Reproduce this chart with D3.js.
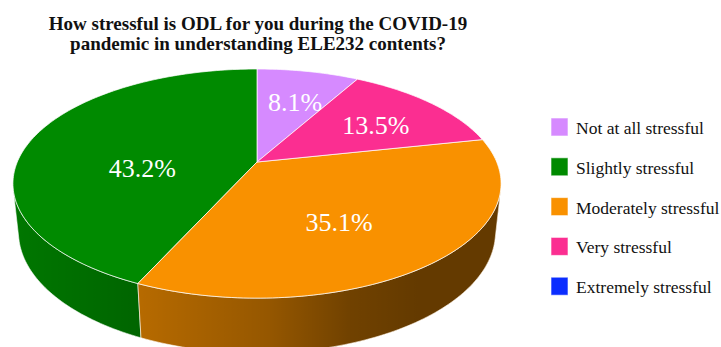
<!DOCTYPE html>
<html>
<head>
<meta charset="utf-8">
<script src="https://cdn.jsdelivr.net/npm/d3@7"></script>
<style>
  html, body { margin: 0; padding: 0; background: #fff; }
  svg { display: block; }
</style>
</head>
<body>
<svg id="chart" width="721" height="347"></svg>
<script>
// data
const categories = ['Not at all stressful', 'Slightly stressful', 'Moderately stressful', 'Very stressful', 'Extremely stressful'];
const percents = [8.1, 43.2, 35.1, 13.5, 0];
const colors = ['#d68aff', '#008a00', '#f99100', '#fb2e91', '#0b2dff'];
const titleLines = ['How stressful is ODL for you during the COVID-19', 'pandemic in understanding ELE232 contents?'];

const FONT = "'Liberation Serif', 'Times New Roman', Tinos, 'DejaVu Serif', serif";
const svg = d3.select('#chart').attr('font-family', FONT);

// perspective camera for the 3D disc (radius 1)
const cam = { cx: 257, cy: 162, F: 1130.7, L: 4.717, phi: Math.asin(0.461), depth: 0.23 };

// theta measured clockwise from the far side of the disc
function project(theta, r, y) {
  const X = r * Math.sin(theta), Z = r * Math.cos(theta), Y = y || 0;
  const cp = Math.cos(cam.phi), sp = Math.sin(cam.phi);
  const dist = cam.L + Z * cp - Y * sp;
  const up = Y * cp + Z * sp;
  return [cam.cx + cam.F * X / dist, cam.cy - cam.F * up / dist];
}

function arcPoints(a0, a1, y) {
  const n = Math.max(2, Math.ceil(Math.abs(a1 - a0) / 0.02));
  return d3.range(n + 1).map(i => project(a0 + (a1 - a0) * i / n, 1, y));
}

// pie goes counter-clockwise in data order, first slice ending at the top
const total = d3.sum(percents);
const start = 2 * Math.PI * percents[0] / total;
const arcs = d3.pie().sort(null).value(d => d).startAngle(start).endAngle(start - 2 * Math.PI)(percents)
  .map((a, i) => ({ i, value: a.value, lo: Math.min(a.startAngle, a.endAngle), hi: Math.max(a.startAngle, a.endAngle) }))
  .filter(a => a.value > 0);

const defs = svg.append('defs');
const shade = defs.append('linearGradient')
  .attr('id', 'wallShade')
  .attr('gradientUnits', 'userSpaceOnUse')
  .attr('x1', 14).attr('x2', 502).attr('y1', 0).attr('y2', 0);
[[0, 0.14], [0.26, 0.27], [0.52, 0.4], [0.69, 0.55], [0.83, 0.6], [1, 0.6]].forEach(([o, a]) => {
  shade.append('stop').attr('offset', o).attr('stop-color', '#000').attr('stop-opacity', a);
});

const line = d3.line();

// outer walls: only the part facing the camera
const limit = Math.acos(-1 / (cam.L * Math.cos(cam.phi)));
const visible = [[limit, 2 * Math.PI - limit], [limit - 2 * Math.PI, -limit]];
const wallG = svg.append('g').attr('class', 'walls');
arcs.forEach(a => {
  visible.forEach(([v0, v1]) => {
    const t0 = Math.max(a.lo, v0), t1 = Math.min(a.hi, v1);
    if (t1 <= t0) return;
    const pts = arcPoints(t0, t1, 0).concat(arcPoints(t1, t0, -cam.depth));
    const d = line(pts) + 'Z';
    wallG.append('path').attr('d', d).attr('fill', colors[a.i]);
    wallG.append('path').attr('d', d).attr('fill', 'url(#wallShade)')
      .attr('stroke', 'rgba(255,255,255,0.75)').attr('stroke-width', 0.8);
  });
});

// top faces
const topG = svg.append('g').attr('class', 'top');
arcs.forEach(a => {
  const pts = [project(0, 0)].concat(arcPoints(a.lo, a.hi, 0));
  a.poly = pts;
  topG.append('path')
    .attr('d', line(pts) + 'Z')
    .attr('fill', colors[a.i])
    .attr('stroke', 'rgba(255,255,255,0.8)')
    .attr('stroke-width', 0.9)
    .attr('stroke-linejoin', 'round');
});

// value labels at slice centroid
topG.selectAll('text.val')
  .data(arcs)
  .join('text')
  .attr('class', 'val')
  .attr('x', d => d3.polygonCentroid(d.poly)[0] + 4)
  .attr('y', d => d3.polygonCentroid(d.poly)[1])
  .attr('dy', '0.35em')
  .attr('text-anchor', 'middle')
  .attr('fill', '#fff')
  .attr('font-size', 26)
  .text(d => d.value.toFixed(1) + '%');

// title
svg.append('g').selectAll('text')
  .data(titleLines)
  .join('text')
  .attr('x', 258)
  .attr('y', (d, i) => 30 + i * 20)
  .attr('text-anchor', 'middle')
  .attr('font-size', 19)
  .attr('font-weight', 'bold')
  .attr('fill', '#111')
  .text(d => d);

// legend
const legend = svg.append('g').attr('class', 'legend')
  .selectAll('g')
  .data(categories)
  .join('g')
  .attr('transform', (d, i) => `translate(551,${118 + i * 39.8})`);

legend.append('rect')
  .attr('width', 17).attr('height', 18)
  .attr('fill', (d, i) => colors[i])
  .attr('stroke', 'rgba(255,255,255,0.6)').attr('stroke-width', 1);

legend.append('text')
  .attr('x', 25).attr('y', 16)
  .attr('font-size', 17.5)
  .attr('fill', '#111')
  .text(d => d);
</script>
</body>
</html>
